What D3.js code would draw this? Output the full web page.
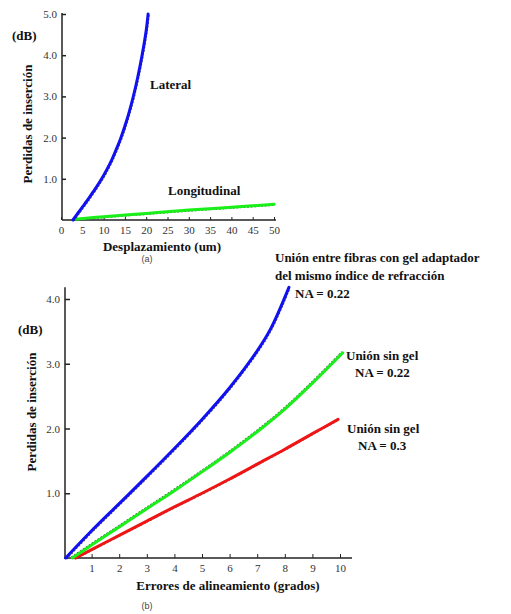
<!DOCTYPE html>
<html>
<head>
<meta charset="utf-8">
<script src="https://cdn.jsdelivr.net/npm/d3@7/dist/d3.min.js"></script>
<style>
  html, body { margin: 0; padding: 0; background: #fff; }
  svg { display: block; }
  .lbl { font-family: "Liberation Serif", "Times New Roman", serif; font-weight: bold; font-size: 13px; fill: #111; }
  .tick text { font-family: "Liberation Serif", "Times New Roman", serif; font-size: 11px; fill: #333; }
  .cap { font-family: "Liberation Sans", Arial, sans-serif; font-size: 9px; fill: #444; }
</style>
</head>
<body>
<svg id="chart" width="511" height="614"></svg>
<script>
// (a) insertion loss vs. displacement
const lateralX = [2.8, 4, 5, 6, 7, 8, 9, 10, 11, 12, 13, 14, 15, 16, 17, 18, 19, 20, 20.45];
const lateralY = [0, 0.17, 0.31, 0.45, 0.6, 0.75, 0.91, 1.08, 1.27, 1.48, 1.72, 1.98, 2.28, 2.62, 3.01, 3.46, 3.98, 4.6, 5.0];
const longX = [3.5, 10, 20, 30, 40, 50];
const longY = [0.02, 0.08, 0.16, 0.24, 0.31, 0.38];
const ticksAX = [0, 5, 10, 15, 20, 25, 30, 35, 40, 45, 50];
const ticksAY = [1, 2, 3, 4, 5];

// (b) insertion loss vs. angular misalignment
const gelX = [0.06, 1, 2, 3, 4, 5, 6, 7, 7.5, 8.15];
const gelY = [0, 0.42, 0.84, 1.26, 1.69, 2.14, 2.63, 3.2, 3.55, 4.18];
const noGel22X = [0.3, 1, 2, 3, 4, 5, 6, 7, 8, 9, 10.1];
const noGel22Y = [0, 0.2, 0.48, 0.76, 1.04, 1.33, 1.63, 1.95, 2.3, 2.7, 3.17];
const noGel3X = [0.42, 1, 2, 3, 4, 5, 6, 7, 8, 9, 9.93];
const noGel3Y = [0, 0.13, 0.35, 0.57, 0.79, 1.0, 1.22, 1.45, 1.68, 1.92, 2.14];
const ticksBX = [1, 2, 3, 4, 5, 6, 7, 8, 9, 10];
const ticksBY = [1, 2, 3, 4];

const svg = d3.select("#chart");
const zip = (xs, ys) => xs.map((x, i) => [x, ys[i]]);

// coloured trace over a thin dark under-stroke
function drawCurve(g, pts, sx, sy, color, dx, dy) {
  const line = d3.line().x(d => sx(d[0])).y(d => sy(d[1])).curve(d3.curveCatmullRom.alpha(0.5));
  g.append("path").datum(pts).attr("d", line)
    .attr("transform", `translate(${dx},${dy})`)
    .attr("fill", "none").attr("stroke", "#111").attr("stroke-width", 1.2)
    .attr("stroke-opacity", 0.7).attr("stroke-dasharray", "2 1.5");
  g.append("path").datum(pts).attr("d", line)
    .attr("fill", "none").attr("stroke", color).attr("stroke-width", 3)
    .attr("stroke-linecap", "round");
}

// ---------- panel (a) ----------
const xA = d3.scaleLinear().domain([0, 50]).range([61, 274]);
const yA = d3.scaleLinear().domain([0, 5]).range([220, 14]);
const gA = svg.append("g");

gA.append("g").attr("transform", `translate(0,${yA(0)})`)
  .call(d3.axisBottom(xA).tickValues(ticksAX).tickFormat(d3.format("d"))
    .tickSizeInner(-3).tickSizeOuter(0).tickPadding(6))
  .call(g => g.select(".domain").remove())
  .call(g => g.selectAll(".tick line").attr("stroke", "#222"));
gA.append("line").attr("x1", xA(0) + 1).attr("x2", xA(50) + 2)
  .attr("y1", yA(0)).attr("y2", yA(0)).attr("stroke", "#222").attr("stroke-width", 1.5);

gA.append("g").attr("transform", `translate(${xA(0) + 1},0)`)
  .call(d3.axisLeft(yA).tickValues(ticksAY).tickFormat(d3.format(".1f"))
    .tickSizeInner(-4).tickSizeOuter(0).tickPadding(5))
  .call(g => g.select(".domain").remove())
  .call(g => g.selectAll(".tick line").attr("stroke", "#222").attr("stroke-width", 1.5));
gA.append("line").attr("x1", xA(0) + 1).attr("x2", xA(0) + 1)
  .attr("y1", yA(0)).attr("y2", yA(5) - 1).attr("stroke", "#222").attr("stroke-width", 1.5);

drawCurve(gA, zip(longX, longY), xA, yA, "#19f019", 0, 1);
drawCurve(gA, zip(lateralX, lateralY), xA, yA, "#1010f0", 1, 1);

gA.append("text").attr("class", "lbl").attr("x", 150).attr("y", 89).text("Lateral");
gA.append("text").attr("class", "lbl").attr("x", 168).attr("y", 195).text("Longitudinal");
gA.append("text").attr("class", "lbl").attr("x", 12).attr("y", 40).text("(dB)");
gA.append("text").attr("class", "lbl").attr("text-anchor", "middle")
  .attr("transform", "translate(32,124) rotate(-90)").text("Perdidas de inserción");
gA.append("text").attr("class", "lbl").attr("text-anchor", "middle")
  .attr("x", 162).attr("y", 251).text("Desplazamiento (um)");
svg.append("text").attr("class", "cap").attr("text-anchor", "middle")
  .attr("x", 147).attr("y", 262).text("(a)");

// ---------- panel (b) ----------
const xB = d3.scaleLinear().domain([0, 10]).range([64, 340]);
const yB = d3.scaleLinear().domain([0, 4]).range([558, 299]);
const gB = svg.append("g");

gB.append("g").attr("transform", `translate(0,${yB(0)})`)
  .call(d3.axisBottom(xB).tickValues(ticksBX).tickFormat(d3.format("d"))
    .tickSizeInner(-4).tickSizeOuter(0).tickPadding(6))
  .call(g => g.select(".domain").remove())
  .call(g => g.selectAll(".tick line").attr("stroke", "#222"))
  .call(g => g.selectAll(".tick text").attr("font-size", 10).attr("fill", "#444"));
gB.append("line").attr("x1", xB(0)).attr("x2", xB(10) + 12)
  .attr("y1", yB(0)).attr("y2", yB(0)).attr("stroke", "#222").attr("stroke-width", 1.5);

gB.append("g").attr("transform", `translate(${xB(0) + 1},0)`)
  .call(d3.axisLeft(yB).tickValues(ticksBY).tickFormat(d3.format(".1f"))
    .tickSizeInner(-5).tickSizeOuter(0).tickPadding(5))
  .call(g => g.select(".domain").remove())
  .call(g => g.selectAll(".tick line").attr("stroke", "#222").attr("stroke-width", 1.5))
  .call(g => g.selectAll(".tick text").attr("fill", "#444"));
gB.append("line").attr("x1", xB(0) + 1).attr("x2", xB(0) + 1)
  .attr("y1", yB(0)).attr("y2", yB(4.18)).attr("stroke", "#222").attr("stroke-width", 1.5);

drawCurve(gB, zip(noGel3X, noGel3Y), xB, yB, "#f01515", 0, 1);
drawCurve(gB, zip(noGel22X, noGel22Y), xB, yB, "#19f019", -1, -1);
drawCurve(gB, zip(gelX, gelY), xB, yB, "#1010f0", 1, 1);

gB.append("text").attr("class", "lbl").attr("x", 275).attr("y", 262).text("Unión entre fibras con gel adaptador");
gB.append("text").attr("class", "lbl").attr("x", 275).attr("y", 280).text("del mismo índice de refracción");
gB.append("text").attr("class", "lbl").attr("x", 295).attr("y", 298).text("NA = 0.22");
gB.append("text").attr("class", "lbl").attr("x", 346).attr("y", 360).text("Unión sin gel");
gB.append("text").attr("class", "lbl").attr("x", 355).attr("y", 377).text("NA = 0.22");
gB.append("text").attr("class", "lbl").attr("x", 347).attr("y", 433).text("Unión sin gel");
gB.append("text").attr("class", "lbl").attr("x", 358).attr("y", 450).text("NA = 0.3");
gB.append("text").attr("class", "lbl").attr("x", 18).attr("y", 334).text("(dB)");
gB.append("text").attr("class", "lbl").attr("text-anchor", "middle")
  .attr("transform", "translate(36,412) rotate(-90)").text("Perdidas de inserción");
gB.append("text").attr("class", "lbl").attr("text-anchor", "middle")
  .attr("x", 228).attr("y", 590).text("Errores de alineamiento (grados)");
svg.append("text").attr("class", "cap").attr("text-anchor", "middle")
  .attr("x", 147).attr("y", 609).text("(b)");
</script>
</body>
</html>
